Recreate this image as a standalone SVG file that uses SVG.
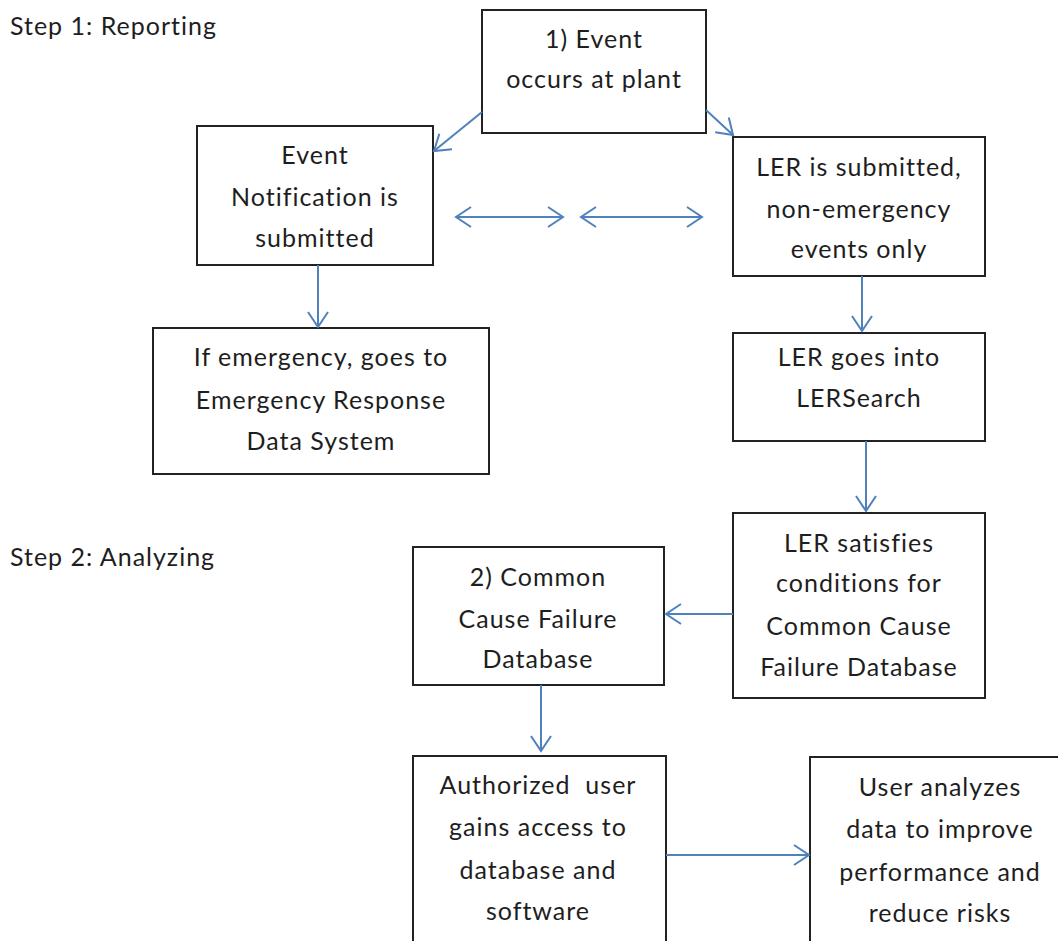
<svg xmlns="http://www.w3.org/2000/svg" width="1058" height="941" viewBox="0 0 1058 941">
  <style>
    .box { fill: #ffffff; stroke: #222222; stroke-width: 2; }
    .lbl { font-family: Lato, "Liberation Sans", sans-serif; font-size: 25px; letter-spacing: 1px; fill: #1e1e1e; text-anchor: middle; }
    .step { font-family: Lato, "Liberation Sans", sans-serif; font-size: 25px; letter-spacing: 1px; fill: #1e1e1e; }
    .conn { fill: none; stroke: #4f81bd; stroke-width: 2; }
  </style>
  <defs>
    <marker id="arrow" markerUnits="userSpaceOnUse" markerWidth="30" markerHeight="30" viewBox="-20 -15 30 30" refX="0" refY="0" orient="auto-start-reverse">
      <path d="M-15,-10 L0,0 L-15,10" fill="none" stroke="#4f81bd" stroke-width="2"/>
    </marker>
  </defs>
  <rect width="1058" height="941" fill="#ffffff"/>

  <text class="step" x="10" y="35">Step 1: Reporting</text>
  <text class="step" x="10" y="566">Step 2: Analyzing</text>

  <g id="event-occurs">
    <rect class="box" x="482" y="10" width="224" height="123"/>
    <text class="lbl" x="594" y="48">1) Event</text>
    <text class="lbl" x="594" y="88">occurs at plant</text>
  </g>

  <g id="event-notification">
    <rect class="box" x="197" y="126" width="236" height="139"/>
    <text class="lbl" x="315" y="164">Event</text>
    <text class="lbl" x="315" y="206">Notification is</text>
    <text class="lbl" x="315" y="247">submitted</text>
  </g>

  <g id="ler-submitted">
    <rect class="box" x="733" y="137" width="252" height="139"/>
    <text class="lbl" x="859" y="176">LER is submitted,</text>
    <text class="lbl" x="859" y="218">non-emergency</text>
    <text class="lbl" x="859" y="258">events only</text>
  </g>

  <g id="emergency">
    <rect class="box" x="153" y="328" width="336" height="146"/>
    <text class="lbl" x="321" y="366">If emergency, goes to</text>
    <text class="lbl" x="321" y="409">Emergency Response</text>
    <text class="lbl" x="321" y="450">Data System</text>
  </g>

  <g id="lersearch">
    <rect class="box" x="733" y="333" width="252" height="108"/>
    <text class="lbl" x="859" y="366">LER goes into</text>
    <text class="lbl" x="859" y="407">LERSearch</text>
  </g>

  <g id="ler-satisfies">
    <rect class="box" x="733" y="513" width="252" height="185"/>
    <text class="lbl" x="859" y="552">LER satisfies</text>
    <text class="lbl" x="859" y="592">conditions for</text>
    <text class="lbl" x="859" y="635">Common Cause</text>
    <text class="lbl" x="859" y="676">Failure Database</text>
  </g>

  <g id="ccf-database">
    <rect class="box" x="413" y="547" width="251" height="138"/>
    <text class="lbl" x="538" y="586">2) Common</text>
    <text class="lbl" x="538" y="628">Cause Failure</text>
    <text class="lbl" x="538" y="668">Database</text>
  </g>

  <g id="authorized-user">
    <rect class="box" x="413" y="756" width="253" height="200"/>
    <text class="lbl" x="538" y="794" style="white-space: pre">Authorized  user</text>
    <text class="lbl" x="538" y="836">gains access to</text>
    <text class="lbl" x="538" y="879">database and</text>
    <text class="lbl" x="538" y="920">software</text>
  </g>

  <g id="user-analyzes">
    <rect class="box" x="810" y="757" width="260" height="200"/>
    <text class="lbl" x="940" y="796">User analyzes</text>
    <text class="lbl" x="940" y="838">data to improve</text>
    <text class="lbl" x="940" y="881">performance and</text>
    <text class="lbl" x="940" y="922">reduce risks</text>
  </g>

  <g id="connectors">
    <line class="conn" x1="482" y1="112" x2="434" y2="151" marker-end="url(#arrow)"/>
    <line class="conn" x1="706" y1="110" x2="733" y2="135" marker-end="url(#arrow)"/>
    <line class="conn" x1="456" y1="217" x2="563" y2="217" marker-start="url(#arrow)" marker-end="url(#arrow)"/>
    <line class="conn" x1="581" y1="217" x2="702" y2="217" marker-start="url(#arrow)" marker-end="url(#arrow)"/>
    <line class="conn" x1="318" y1="265" x2="318" y2="327" marker-end="url(#arrow)"/>
    <line class="conn" x1="862" y1="276" x2="862" y2="331" marker-end="url(#arrow)"/>
    <line class="conn" x1="866" y1="441" x2="866" y2="511" marker-end="url(#arrow)"/>
    <line class="conn" x1="733" y1="614" x2="666" y2="614" marker-end="url(#arrow)"/>
    <line class="conn" x1="541" y1="685" x2="541" y2="751" marker-end="url(#arrow)"/>
    <line class="conn" x1="666" y1="855" x2="809" y2="855" marker-end="url(#arrow)"/>
  </g>
</svg>
